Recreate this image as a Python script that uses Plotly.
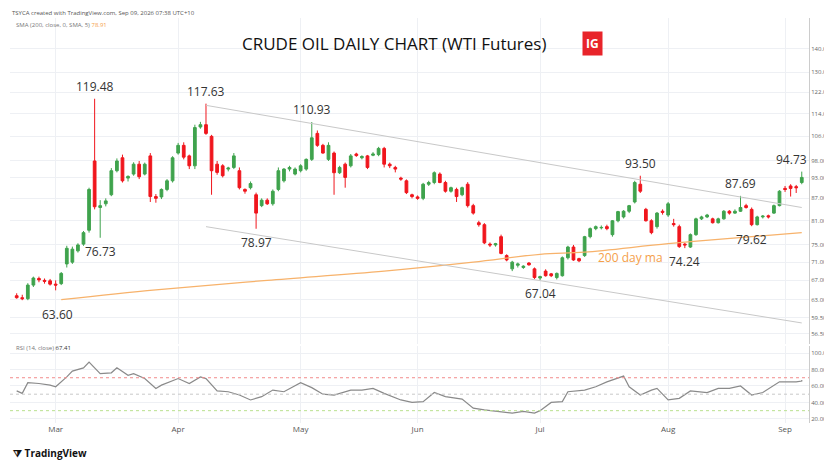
import math
import pandas as pd
import plotly.graph_objects as go
from plotly.subplots import make_subplots

ohlc_rows = """
63.8,64.3,63.2,63.4
63.4,64.0,62.9,63.2
63.2,66.4,62.9,66.0
66.0,67.8,65.6,67.5
67.4,67.8,66.6,67.1
67.0,67.4,66.3,66.8
66.9,67.3,65.9,66.2
66.2,67.0,64.9,66.0
66.3,68.8,66.0,68.5
70.6,74.8,69.8,74.2
71.0,74.6,70.6,74.0
73.6,75.4,73.2,75.0
75.2,78.4,74.8,78.0
78.6,90.0,78.0,89.5
98.0,119.48,84.0,84.7
84.5,86.5,76.73,85.0
85.5,87.0,84.8,86.3
88.0,95.8,87.6,95.0
95.0,98.8,94.5,98.0
99.0,100.0,91.5,92.0
92.8,93.6,91.8,93.3
94.0,97.6,93.5,97.0
97.0,98.0,92.5,93.2
94.0,97.5,93.6,97.0
99.6,100.5,86.0,87.5
87.5,88.2,85.8,87.0
87.4,89.8,86.8,89.5
89.5,92.5,89.0,92.0
92.0,99.5,91.5,99.0
100.5,103.8,100.0,103.0
103.0,104.0,98.5,99.2
99.6,100.0,95.5,96.5
96.5,110.0,95.5,109.0
109.2,111.0,108.6,110.0
110.0,117.63,106.5,107.0
106.0,106.5,88.0,95.0
97.0,98.0,93.8,94.5
96.5,97.0,93.0,93.5
95.5,96.2,94.8,95.8
96.0,100.5,95.5,99.6
95.0,96.0,89.5,90.0
89.5,89.8,88.3,89.0
90.0,91.8,89.5,91.2
88.0,88.6,78.97,83.0
85.0,87.0,84.6,86.5
86.5,87.0,85.2,85.5
85.5,89.5,85.0,89.0
89.5,96.0,89.0,95.0
92.0,95.8,91.5,95.5
95.5,96.5,94.8,96.0
94.0,96.0,93.6,95.5
95.0,97.0,94.5,96.5
95.5,98.8,95.0,98.5
98.5,110.93,98.0,105.5
107.0,108.0,102.5,103.0
103.0,103.5,100.3,100.5
98.5,104.0,98.0,103.0
100.5,101.0,88.0,94.4
94.4,96.5,94.0,96.0
97.0,97.5,90.0,93.0
96.5,100.2,96.0,99.6
100.2,100.6,99.3,99.7
99.0,99.8,98.5,99.4
99.6,99.9,95.5,96.0
99.8,100.8,99.5,100.2
100.0,102.5,99.5,102.0
102.0,102.5,96.0,97.0
97.0,97.5,95.8,96.5
96.0,96.5,94.5,95.5
92.8,93.2,92.0,92.5
92.0,92.4,88.2,88.6
88.0,88.3,87.0,87.5
87.4,87.8,86.6,87.0
87.0,91.4,86.5,91.0
91.0,92.0,90.5,91.5
91.5,94.8,91.0,94.4
94.0,94.5,91.3,91.5
91.5,92.0,88.6,89.0
89.0,90.3,88.6,90.0
89.5,90.0,86.0,87.5
88.0,90.3,87.6,90.0
91.0,91.6,84.5,85.0
85.0,85.5,82.6,83.0
80.5,81.0,79.5,80.0
80.0,80.4,75.2,75.5
75.2,75.6,74.5,75.0
75.0,75.5,74.6,75.3
77.0,77.5,72.8,73.0
72.5,72.8,71.2,71.5
69.5,71.3,69.0,71.0
70.3,70.9,69.8,70.6
69.8,70.3,69.5,70.1
70.8,71.0,70.2,70.4
69.5,69.8,67.3,67.6
67.5,68.0,67.04,67.8
69.0,69.4,67.8,68.0
68.4,68.6,67.7,68.0
67.6,68.7,67.2,68.5
68.0,72.3,67.8,72.0
72.0,74.8,71.6,74.5
74.5,75.0,71.3,71.5
71.8,72.0,71.0,71.3
72.5,77.2,72.2,77.0
77.0,79.3,76.6,79.0
79.0,79.8,78.6,79.5
79.2,79.8,78.8,79.3
79.5,80.0,78.6,79.0
77.5,81.2,77.0,81.0
81.0,83.6,80.6,83.4
82.0,83.8,81.6,83.5
83.5,85.2,83.0,85.0
86.0,92.0,85.6,91.5
91.0,93.50,88.5,89.0
84.0,84.4,80.8,81.0
81.0,81.4,77.6,78.0
79.5,83.3,79.0,83.0
83.5,84.0,82.6,83.2
82.5,86.0,82.0,85.5
80.3,81.5,79.5,80.0
79.5,80.0,74.3,74.6
75.2,75.5,74.24,75.0
74.5,77.8,74.3,77.5
77.5,81.8,77.2,81.5
81.5,82.3,81.2,82.0
82.0,82.8,81.7,82.5
81.5,81.8,80.3,80.5
80.5,81.8,80.3,81.5
81.5,83.8,81.3,83.5
83.5,83.8,82.6,83.0
83.0,84.0,82.8,83.5
83.5,87.69,83.3,84.5
85.0,85.5,84.2,84.5
84.0,84.5,79.62,80.0
80.0,82.3,79.8,82.0
82.0,82.5,81.6,82.2
82.3,82.6,81.6,82.0
83.0,85.3,82.8,85.0
85.0,89.3,84.8,89.0
89.8,90.5,88.8,89.5
90.5,91.0,87.5,89.8
90.3,90.8,88.5,90.0
91.5,94.73,91.0,93.0
"""
rows = [list(map(float, r.split(","))) for r in ohlc_rows.strip().splitlines()]
opens = [r[0] for r in rows]
highs = [r[1] for r in rows]
lows = [r[2] for r in rows]
closes = [r[3] for r in rows]
n = len(rows)
dates = pd.bdate_range(end="2026-09-04", periods=n)
xi_all = list(range(n))

ma_idx = [8, 25, 45, 66, 82, 94, 102, 117, 132, n - 1]
ma_val = [63.0, 65.0, 67.0, 69.0, 71.0, 72.8, 73.3, 75.3, 77.0, 78.0]

top_i = highs.index(117.63)
upper_idx = [top_i, n - 1]
upper_val = [117.0, 84.5]
lower_idx = [top_i, n - 1]
lower_val = [79.5, 58.5]

rsi_idx = [0,1,2,4,6,7,9,10,12,13,15,17,18,20,21,23,25,26,29,31,33,34,36,38,40,42,44,46,48,51,53,55,57,60,62,64,66,69,71,73,75,77,80,82,84,87,89,91,93,94,96,98,99,102,104,106,109,110,112,114,115,117,119,121,124,126,128,130,132,134,137,140,143,146]
rsi_val = [54,51,64,63,61,59,71,78,82,89,75,76,82,73,75,69,57,61,69,63,71,69,54,53,49,43,47,55,53,64,58,50,49,55,55,57,51,43,40,41,52,47,44,33,31,29,27,29,27,30,40,41,53,55,59,65,72,59,49,55,57,43,45,54,52,57,57,60,49,52,65,65,66,67.4]
rsi_idx = [min(i, n - 1) for i in rsi_idx]

high_labels = ["119.48", "117.63", "110.93", "93.50", "87.69", "94.73"]
low_labels = ["76.73", "78.97", "67.04", "74.24", "79.62"]

price_ticks = [140, 130, 122, 114, 106, 98, 93, 87, 81, 75, 71, 67, 63, 59.5, 56.5]
rsi_ticks = [100, 80, 60, 40, 20]
month_labels = ["Mar", "Apr", "May", "Jun", "Jul", "Aug", "Sep"]
month_pos = [i for i in range(1, n) if dates[i].month != dates[i - 1].month]

fig = make_subplots(rows=2, cols=1, shared_xaxes=True, row_heights=[0.805, 0.19], vertical_spacing=0.005)

fig.add_trace(go.Candlestick(x=xi_all, open=opens, high=highs, low=lows, close=closes,
                             increasing=dict(line=dict(color="#3fa34d", width=1), fillcolor="#3fa34d"),
                             decreasing=dict(line=dict(color="#f0161d", width=1), fillcolor="#f0161d"),
                             whiskerwidth=0, showlegend=False), row=1, col=1)
fig.add_trace(go.Scatter(x=ma_idx, y=ma_val, mode="lines", line=dict(color="#f7b26b", width=1.3, shape="spline"),
                         showlegend=False, hoverinfo="skip"), row=1, col=1)
for xi, yv in ((upper_idx, upper_val), (lower_idx, lower_val)):
    fig.add_trace(go.Scatter(x=xi, y=yv, mode="lines", line=dict(color="#c8c8c8", width=1),
                             showlegend=False, hoverinfo="skip"), row=1, col=1)

fig.add_trace(go.Scatter(x=rsi_idx, y=rsi_val, mode="lines", line=dict(color="#8a8a8a", width=1.2),
                         showlegend=False), row=2, col=1)
for lvl, col in ((70, "#f28b8b"), (50, "#c8c8c8"), (30, "#b9e08f")):
    fig.add_hline(y=lvl, line=dict(color=col, width=1, dash="dot"), row=2, col=1)

for txt in high_labels:
    i = highs.index(float(txt))
    fig.add_annotation(x=i, y=math.log10(float(txt)), text=txt, showarrow=False, yanchor="bottom", yshift=2,
                       xshift=-10 if i == n - 1 else 0, font=dict(size=12, color="#333"), row=1, col=1)
fig.add_annotation(x=2, y=math.log10(63.0), text="63.60", showarrow=False, yanchor="top", yshift=-4, xshift=30,
                   font=dict(size=12, color="#333"), row=1, col=1)
for txt in low_labels:
    i = lows.index(float(txt))
    fig.add_annotation(x=i, y=math.log10(float(txt)), text=txt, showarrow=False, yanchor="top", yshift=-3,
                       font=dict(size=12, color="#333"), row=1, col=1)
fig.add_annotation(x=104, y=math.log10(72.0), text="200 day ma", showarrow=False, xanchor="left",
                   xshift=0, font=dict(size=12, color="#f5a04a"), row=1, col=1)

grid = "#eef0f4"
fig.update_xaxes(tickvals=month_pos, ticktext=month_labels, showgrid=True, gridcolor=grid, rangeslider_visible=False,
                 range=[-1.2, n + 0.3], tickfont=dict(size=8, color="#555"), showline=False, zeroline=False)
fig.update_xaxes(showticklabels=False, row=1, col=1)
fig.update_yaxes(type="log", side="right", range=[1.738, 2.189], tickvals=price_ticks,
                 ticktext=[f"{v:.2f}" for v in price_ticks], gridcolor=grid, tickfont=dict(size=6, color="#666"),
                 showline=True, linecolor="#ccc", row=1, col=1)
fig.update_yaxes(side="right", range=[15, 108.5], tickvals=rsi_ticks, ticktext=[f"{v:.2f}" for v in rsi_ticks],
                 gridcolor=grid, tickfont=dict(size=6, color="#666"), showline=True, linecolor="#ccc", row=2, col=1)

fig.add_annotation(xref="paper", yref="paper", x=0.48, y=0.938, yanchor="middle", text="CRUDE OIL DAILY CHART (WTI Futures)", showarrow=False,
                   font=dict(size=17, color="#111", family="Open Sans"))
fig.add_annotation(xref="paper", yref="paper", x=0.742, y=0.938, yanchor="middle", text="<b>IG</b>", showarrow=False, bgcolor="#e8242a",
                   font=dict(size=12, color="white"), borderpad=3)
fig.add_annotation(xref="paper", yref="paper", x=0.0, y=1.012, xanchor="left", yanchor="middle",
                   text="TSYCA created with TradingView.com, Sep 09, 2026 07:38 UTC+10",
                   showarrow=False, font=dict(size=6, color="#555"))
fig.add_annotation(xref="paper", yref="paper", x=0.005, y=0.983, xanchor="left", yanchor="middle",
                   text="SMA (200, close, 0, SMA, 5) <span style='color:#f5a04a'>78.91</span>",
                   showarrow=False, font=dict(size=6, color="#777"))
fig.add_annotation(xref="paper", yref="paper", x=0.005, y=0.185, xanchor="left", yanchor="middle",
                   text="RSI (14, close) <span style='color:#333'>67.41</span>",
                   showarrow=False, font=dict(size=6, color="#777"))
fig.add_annotation(xref="paper", yref="paper", x=0.0, y=-0.074, xanchor="left", yanchor="middle", text="<b>⧩ TradingView</b>",
                   showarrow=False, font=dict(size=10, color="#111"))

fig.update_layout(width=832, height=465, margin=dict(l=2, r=31, t=10, b=50), plot_bgcolor="white", paper_bgcolor="white",
                  font=dict(family="Open Sans"))
fig.write_html("out.html")
